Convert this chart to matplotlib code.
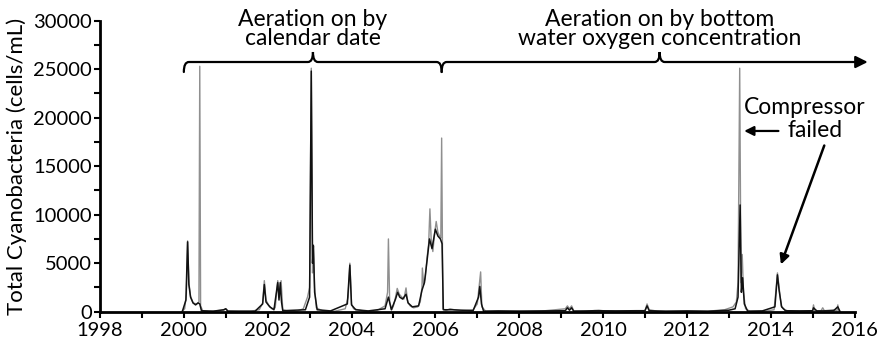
import matplotlib.pyplot as plt
from matplotlib.path import Path
from matplotlib.patches import PathPatch
from matplotlib.ticker import MultipleLocator

plt.rcParams['font.family'] = ['Lato', 'DejaVu Sans']

# Total cyanobacteria, light grey trace (year, cells/mL)
grey_year = [1999.95, 2000.02, 2000.06, 2000.09, 2000.12, 2000.16, 2000.22, 2000.30, 2000.36, 2000.38,
             2000.40, 2000.45, 2000.60, 2000.80, 2000.95, 2001.00, 2001.05, 2001.30, 2001.60, 2001.80,
             2001.88, 2001.92, 2001.96, 2002.02, 2002.10, 2002.18, 2002.24, 2002.28, 2002.32, 2002.36,
             2002.45, 2002.70, 2002.85, 2002.95, 2003.00, 2003.04, 2003.07, 2003.09, 2003.12, 2003.16,
             2003.30, 2003.60, 2003.85, 2003.92, 2003.96, 2004.00, 2004.05, 2004.15, 2004.30, 2004.60,
             2004.80, 2004.86, 2004.88, 2004.91, 2004.96, 2005.00, 2005.05, 2005.09, 2005.14, 2005.20,
             2005.25, 2005.30, 2005.34, 2005.40, 2005.48, 2005.58, 2005.64, 2005.68, 2005.69, 2005.72,
             2005.76, 2005.80, 2005.84, 2005.87, 2005.90, 2005.94, 2005.98, 2006.02, 2006.06, 2006.10,
             2006.13, 2006.15, 2006.18, 2006.25, 2006.35, 2006.45, 2006.60, 2006.90, 2007.00, 2007.04,
             2007.08, 2007.11, 2007.20, 2007.50, 2008.00, 2008.50, 2009.10, 2009.15, 2009.20, 2009.25,
             2009.30, 2009.60, 2009.90, 2010.00, 2010.50, 2011.00, 2011.05, 2011.10, 2011.30, 2012.00,
             2012.50, 2012.90, 2013.10, 2013.18, 2013.22, 2013.26, 2013.29, 2013.32, 2013.35, 2013.40,
             2013.50, 2013.90, 2014.08, 2014.12, 2014.16, 2014.20, 2014.25, 2014.30, 2014.40, 2014.80,
             2015.00, 2015.02, 2015.05, 2015.20, 2015.24, 2015.28, 2015.40, 2015.50, 2015.58, 2015.60,
             2015.62]
grey_val = [0, 300, 1800, 7300, 3000, 1600, 900, 800, 1000, 25300,
            600, 100, 50, 100, 150, 300, 100, 50, 50, 200,
            900, 3200, 1200, 700, 300, 400, 3200, 1500, 3200, 200,
            100, 50, 300, 1500, 2500, 25100, 4000, 6900, 2500, 400,
            100, 50, 300, 1500, 5000, 800, 300, 200, 50, 100,
            600, 2000, 7500, 1000, 200, 600, 1500, 2400, 1800, 1500,
            1300, 2450, 1000, 600, 400, 500, 1000, 2500, 4500, 2800,
            3500, 5500, 7000, 10600, 7500, 6200, 8000, 9300, 8200, 7800,
            7600, 17900, 300, 100, 300, 200, 100, 200, 800, 2500,
            4100, 500, 50, 50, 80, 50, 300, 600, 300, 600,
            100, 50, 150, 100, 80, 100, 800, 200, 50, 60,
            50, 200, 500, 1000, 3000, 25100, 3000, 5900, 2000, 300,
            50, 80, 200, 2000, 4000, 2500, 600, 300, 80, 100,
            100, 700, 100, 100, 400, 100, 150, 200, 100, 700,
            100]

# Dark trace
black_year = [1999.97, 2000.05, 2000.09, 2000.12, 2000.16, 2000.22, 2000.28, 2000.34, 2000.38, 2000.42,
              2000.70, 2000.95, 2001.00, 2001.05, 2001.70, 2001.88, 2001.92, 2001.96, 2002.05, 2002.15,
              2002.24, 2002.27, 2002.30, 2002.33, 2002.36, 2002.90, 2003.00, 2003.04, 2003.07, 2003.09,
              2003.12, 2003.18, 2003.50, 2003.90, 2003.96, 2004.00, 2004.10, 2004.40, 2004.80, 2004.88,
              2004.95, 2005.05, 2005.10, 2005.15, 2005.22, 2005.30, 2005.35, 2005.45, 2005.60, 2005.68,
              2005.74, 2005.80, 2005.86, 2005.92, 2006.00, 2006.06, 2006.12, 2006.16, 2006.19, 2006.40,
              2006.90, 2007.03, 2007.06, 2007.10, 2007.15, 2007.50, 2008.00, 2008.50, 2009.10, 2009.15,
              2009.20, 2009.25, 2009.30, 2009.80, 2010.30, 2010.80, 2011.00, 2011.05, 2011.10, 2011.50,
              2012.00, 2012.50, 2013.00, 2013.15, 2013.22, 2013.27, 2013.30, 2013.33, 2013.37, 2013.45,
              2013.80, 2014.10, 2014.16, 2014.20, 2014.26, 2014.35, 2014.70, 2015.00, 2015.02, 2015.10,
              2015.50, 2015.60, 2015.65]
black_val = [100, 1200, 7200, 2800, 1500, 900, 700, 900, 800, 100,
             50, 200, 300, 50, 50, 800, 2800, 1000, 500, 200,
             3000, 1200, 3000, 1000, 100, 200, 1500, 24800, 5000, 6800,
             2000, 200, 80, 800, 4800, 700, 200, 80, 300, 1500,
             200, 1300, 2000, 1500, 1300, 1800, 900, 500, 600, 2200,
             3000, 5200, 7500, 6500, 8500, 7800, 7500, 7000, 200, 200,
             100, 1500, 2600, 800, 50, 80, 50, 80, 100, 400,
             150, 400, 50, 100, 80, 100, 100, 600, 100, 50,
             80, 50, 150, 300, 1500, 11000, 2000, 3500, 800, 50,
             80, 500, 3800, 2200, 500, 100, 80, 100, 400, 80,
             100, 500, 50]

fig = plt.figure(figsize=(8.81, 3.43), dpi=100)
ax = fig.add_axes([0.1135, 0.0913, 0.8565, 0.8484])

ax.plot(grey_year, grey_val, color='#8f8f8f', lw=1.0)
ax.plot(black_year, black_val, color='#111111', lw=1.1)

ax.set_xlim(1998, 2016)
ax.set_ylim(0, 30000)
ax.xaxis.set_major_locator(MultipleLocator(2))
ax.xaxis.set_minor_locator(MultipleLocator(1))
ax.yaxis.set_major_locator(MultipleLocator(5000))
ax.yaxis.set_minor_locator(MultipleLocator(2500))
ax.tick_params(which='both', direction='out', length=4, width=1.5, labelsize=14.5)
ax.tick_params(axis='x', pad=3.5)
ax.tick_params(axis='y', pad=2)
for s in ['top', 'right']:
    ax.spines[s].set_visible(False)
for s in ['left', 'bottom']:
    ax.spines[s].set_linewidth(2)
ax.set_ylabel('Total Cyanobacteria (cells/mL)', fontsize=16, labelpad=4)

# braces (sizes in data units: ~5 px wide, ~10 px tall)
rx, ry = 0.12, 1030
yb = 25740


def brace(x0, xm, x1, y, right_curl=True):
    verts = [(x0, y - ry), (x0, y), (x0 + rx, y), (xm - rx, y), (xm, y), (xm, y + ry),
             (xm, y), (xm + rx, y)]
    codes = [Path.MOVETO, Path.CURVE3, Path.CURVE3, Path.LINETO, Path.CURVE3, Path.CURVE3,
             Path.CURVE3, Path.CURVE3]
    if right_curl:
        verts += [(x1 - rx, y), (x1, y), (x1, y - ry)]
        codes += [Path.LINETO, Path.CURVE3, Path.CURVE3]
    else:
        verts += [(x1, y)]
        codes += [Path.LINETO]
    p = PathPatch(Path(verts, codes), fill=False, lw=1.6, ec='black', clip_on=False,
                  capstyle='round')
    ax.add_patch(p)


brace(2000.0, 2003.08, 2006.15, yb)
brace(2006.15, 2011.35, 2016.05, yb, right_curl=False)
ax.annotate('', xy=(2016.38, yb), xytext=(2016.0, yb), annotation_clip=False,
            arrowprops=dict(arrowstyle='-|>', mutation_scale=18, lw=1.6, color='black'))

ax.text(2003.08, 29150, 'Aeration on by\ncalendar date', ha='center', va='center',
        fontsize=16.5, linespacing=0.9, clip_on=False)
ax.text(2011.35, 29150, 'Aeration on by bottom\nwater oxygen concentration', ha='center',
        va='center', fontsize=16.5, linespacing=0.9, clip_on=False)

# compressor annotation
ax.text(2014.8, 21100, 'Compressor', ha='center', va='center', fontsize=16.5)
ax.text(2015.05, 18630, 'failed', ha='center', va='center', fontsize=16.5)
ax.annotate('', xy=(2013.3, 18630), xytext=(2014.25, 18630),
            arrowprops=dict(arrowstyle='-|>', mutation_scale=14, lw=1.6, color='black'))
ax.annotate('', xy=(2014.22, 4600), xytext=(2015.3, 17400),
            arrowprops=dict(arrowstyle='-|>', mutation_scale=14, lw=1.8, color='black'))

fig.savefig('out.png', dpi=100)
